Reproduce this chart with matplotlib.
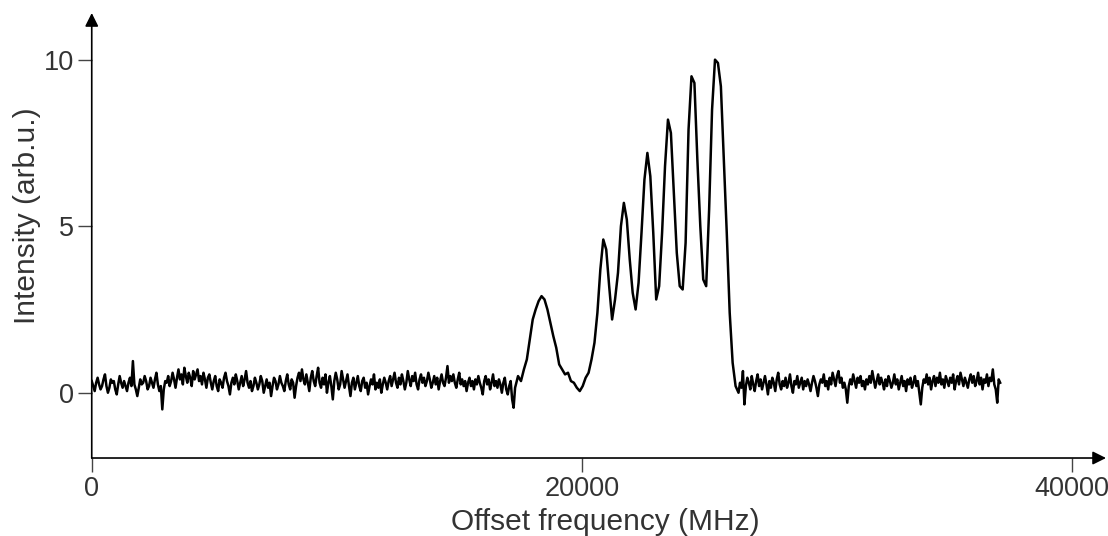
import numpy as np
import matplotlib
matplotlib.use("Agg")
import matplotlib.pyplot as plt

plt.rcParams['font.family'] = ['Liberation Sans', 'DejaVu Sans']

# intensity in arb. units
# flat parts sampled every 60 MHz, the band every 120 MHz
left_start, left_step = 0, 60
band_start, band_step = 17280, 120
right_start, right_step = 26400, 60

baseline_left = [
    0.35, 0.2, 0.05, 0.3, 0.45, 0.25, 0.1, 0.2, 0.4, 0.55, 0.2, 0.0,
    0.15, 0.4, 0.3, 0.35, 0.1, -0.05, 0.25, 0.5, 0.3, 0.15, 0.35, 0.2,
    0.05, 0.3, 0.45, 0.2, 0.95, 0.25, 0.1, -0.1, 0.15, 0.4, 0.25, 0.3,
    0.5, 0.35, 0.1, 0.2, 0.45, 0.3, 0.15, 0.4, 0.6, 0.25, 0.05, 0.2,
    -0.5, 0.1, 0.35, 0.3, 0.5, 0.2, 0.35, 0.6, 0.4, 0.15, 0.45, 0.7,
    0.4, 0.55, 0.25, 0.75, 0.5, 0.3, 0.6, 0.45, 0.2, 0.65, 0.4, 0.55,
    0.7, 0.35, 0.5, 0.25, 0.6, 0.4, 0.15, 0.45, 0.55, 0.3, 0.1, 0.35,
    0.5, 0.2, 0.05, 0.4, 0.3, 0.15, 0.45, 0.6, 0.35, 0.2, -0.05, 0.3,
    0.45, 0.25, 0.55, 0.35, 0.1, 0.3, 0.5, 0.2, 0.4, 0.65, 0.3, 0.15,
    0.35, 0.05, 0.2, 0.45, 0.3, 0.1, 0.25, 0.5, 0.35, 0.0, 0.2, 0.4,
    0.15, 0.3, -0.1, 0.2, 0.45, 0.35, 0.1, 0.25, 0.5, 0.3, 0.2, 0.05,
    0.35, 0.55, 0.25, 0.1, 0.4, 0.3, -0.15, 0.2, 0.45, 0.6, 0.35, 0.7,
    0.4, 0.25, 0.55, 0.3, 0.05, 0.45, 0.65, 0.35, 0.2, 0.5, 0.75, 0.3,
    0.15, 0.45, 0.25, 0.55, 0.0, 0.3, 0.5, 0.2, -0.2, 0.35, 0.6, 0.4,
    0.1, 0.25, 0.65, 0.4, 0.15, 0.35, 0.55, 0.2, -0.1, 0.3, 0.45, 0.1,
    0.3, 0.5, 0.2, 0.05, 0.35, 0.45, 0.15, 0.3, -0.05, 0.2, 0.4, 0.25,
    0.55, 0.1, 0.3, 0.15, 0.4, 0.0, 0.25, 0.45, 0.3, 0.1, 0.35, 0.5,
    0.2, 0.4, 0.6, 0.3, 0.15, 0.45, 0.25, 0.55, 0.35, 0.1, 0.3, 0.65,
    0.4, 0.2, 0.5, 0.35, 0.6, 0.25, 0.1, 0.4, 0.55, 0.3, 0.45, 0.2,
    0.35, 0.6, 0.4, 0.15, 0.3, 0.5, 0.25, 0.45, 0.1, 0.35, 0.55, 0.3,
    0.2, 0.45, 0.8, 0.3, 0.5, 0.35, 0.55, 0.3, 0.15, 0.4, 0.6, 0.25,
    0.4, 0.2, 0.35, 0.05, 0.3, 0.45, 0.2, 0.35, 0.1, 0.4, 0.25, 0.5,
    0.3, 0.15, -0.05, 0.35, 0.5, 0.25, 0.4, 0.1, 0.3, 0.55, 0.2, 0.35,
    0.15, 0.4, 0.25, 0.0, 0.3, 0.45, 0.1, -0.05, 0.2, 0.35, -0.2, -0.45,
]

band = [
    0.15, 0.5, 0.35, 0.7, 1.0, 1.6, 2.2, 2.5, 2.75, 2.9,
    2.8, 2.5, 2.1, 1.7, 1.35, 0.85, 0.7, 0.55, 0.6, 0.35,
    0.3, 0.15, 0.05, 0.2, 0.45, 0.6, 1.0, 1.5, 2.4, 3.7,
    4.6, 4.3, 3.2, 2.2, 2.8, 3.6, 5.0, 5.7, 5.2, 4.0,
    3.0, 2.5, 3.3, 4.8, 6.4, 7.2, 6.5, 4.8, 2.8, 3.2,
    4.8, 6.8, 8.2, 7.8, 6.0, 4.2, 3.2, 3.1, 4.5, 7.9,
    9.5, 9.3, 7.0, 5.0, 3.4, 3.2, 5.5, 8.5, 10.0, 9.9,
    9.2, 7.0, 4.8, 2.4, 0.9, 0.2,
]

baseline_right = [
    0.0, 0.3, 0.15, 0.65, -0.35, 0.2, 0.45, 0.3, 0.1, 0.5, 0.25, 0.05,
    0.35, 0.55, 0.2, 0.4, 0.1, 0.3, 0.5, 0.25, -0.05, 0.35, 0.15, 0.45,
    0.3, 0.05, 0.4, 0.6, 0.25, 0.1, 0.35, 0.2, 0.45, 0.15, 0.3, 0.55,
    0.2, 0.0, 0.35, 0.25, 0.5, 0.15, 0.3, 0.45, 0.1, 0.35, 0.2, 0.4,
    0.25, 0.05, 0.3, 0.5, 0.35, 0.15, -0.1, 0.25, 0.4, 0.3, 0.55, 0.2,
    0.35, 0.1, 0.45, 0.25, 0.6, 0.4, 0.2, 0.5, 0.65, 0.3, 0.45, 0.15,
    0.3, 0.1, -0.3, 0.2, 0.4, 0.25, 0.55, 0.35, 0.15, 0.45, 0.3, 0.5,
    0.2, 0.35, 0.1, 0.4, 0.25, 0.5, 0.3, 0.65, 0.4, 0.15, 0.35, 0.55,
    0.25, 0.45, 0.3, 0.1, 0.4, 0.2, 0.5, 0.35, 0.15, 0.3, 0.55, 0.25,
    0.4, 0.1, 0.3, 0.5, 0.2, 0.35, 0.05, 0.4, 0.25, 0.45, 0.15, 0.3,
    0.5, 0.2, 0.35, 0.0, -0.35, 0.15, 0.4, 0.3, 0.55, 0.25, 0.45, 0.1,
    0.35, 0.5, 0.2, 0.45, 0.3, 0.6, 0.25, 0.4, 0.15, 0.5, 0.35, 0.2,
    0.45, 0.3, 0.55, 0.1, 0.35, 0.5, 0.25, 0.6, 0.4, 0.2, 0.45, 0.3,
    0.15, 0.4, 0.55, 0.3, 0.5, 0.2, 0.35, 0.6, 0.25, 0.45, 0.1, 0.4,
    0.3, 0.55, 0.2, 0.45, 0.35, 0.7, 0.25, 0.1, -0.3, 0.4, 0.3,
]

x_ticks = [0, 20000, 40000]
y_ticks = [0, 5, 10]

freq = np.concatenate([
    left_start + np.arange(len(baseline_left)) * left_step,
    band_start + np.arange(len(band)) * band_step,
    right_start + np.arange(len(baseline_right)) * right_step,
])
intensity = np.array(baseline_left + band + baseline_right)

text_color = '#333333'

fig = plt.figure(figsize=(11.08, 5.36), dpi=100)
ax = fig.add_axes([0.0828, 0.1455, 0.9154, 0.8302])

ax.plot(freq, intensity, color='black', lw=1.8, solid_joinstyle='round')

ax.set_xlim(0, 41400)
ax.set_ylim(-1.96, 11.4)

# axes drawn as arrows instead of spines
for s in ax.spines.values():
    s.set_visible(False)
ax.annotate('', xy=(1, 0), xytext=(0, 0), xycoords='axes fraction',
            arrowprops=dict(arrowstyle='-|>', color='black', lw=1.2,
                            mutation_scale=20, shrinkA=0, shrinkB=0))
ax.annotate('', xy=(0, 1), xytext=(0, 0), xycoords='axes fraction',
            arrowprops=dict(arrowstyle='-|>', color='black', lw=1.2,
                            mutation_scale=20, shrinkA=0, shrinkB=0))

ax.set_xticks(x_ticks)
ax.set_yticks(y_ticks)
ax.set_xticklabels([str(v) for v in x_ticks])
ax.set_yticklabels([str(v) for v in y_ticks])
ax.tick_params(direction='out', length=10, width=1, color='#444444',
               labelsize=19.5, labelcolor=text_color, pad=3)

fig.text(605 / 1108, 6 / 536, 'Offset frequency (MHz)', ha='center',
         va='baseline', fontsize=21.5, color=text_color)
fig.text(27 / 1108, 1 - 216 / 536, 'Intensity (arb.u.)', ha='center',
         va='center', rotation=90, fontsize=21.5, color=text_color)

fig.savefig('out.png', dpi=100)
